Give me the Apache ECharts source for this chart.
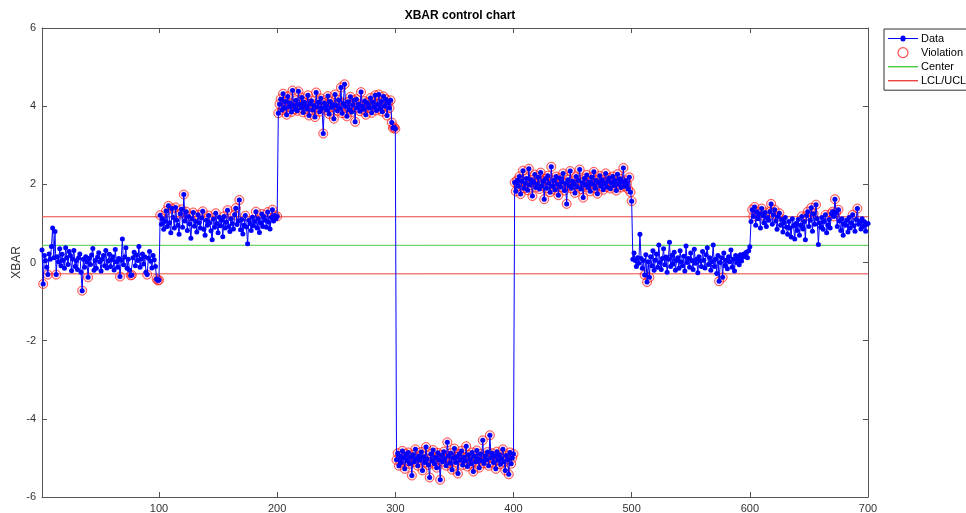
<!DOCTYPE html>
<html><head><meta charset="utf-8">
<script src="https://cdn.jsdelivr.net/npm/echarts@6/dist/echarts.min.js"></script>
<style>html,body{margin:0;padding:0;background:#fff}#c{width:966px;height:513px}</style>
</head><body><div id="c"></div>
<script>
var seg1=[0.32,-0.55,0.18,0.05,-0.12,-0.31,0.22,0.08,0.41,0.88,0.12,0.79,-0.31,0.15,0.02,0.35,-0.08,0.21,0.05,-0.15,
0.38,0.12,-0.05,0.28,0.18,-0.21,0.09,0.31,-0.1,0.05,-0.18,0.12,0.22,-0.25,-0.72,0.08,-0.12,0.15,0.02,-0.38,
0.11,-0.05,0.19,0.36,-0.2,0.05,-0.15,0.14,0.25,0.02,-0.22,0.09,0.18,-0.08,0.31,-0.14,0.04,0.21,-0.1,0.07,
0.15,-0.19,0.33,0.02,-0.12,0.1,-0.36,0.06,0.6,-0.06,0.14,0.38,-0.15,0.08,-0.2,-0.33,-0.32,0.12,0.26,-0.08,
0.19,0.05,0.41,-0.12,0.09,0.22,-0.04,0.15,-0.25,-0.31,0.11,0.28,0.03,-0.14,0.18,0.07,-0.1,-0.42,-0.46,-0.45];
var seg2=[1.21,0.98,1.12,0.85,1.05,1.32,0.92,1.45,1.02,0.76,1.38,1.15,0.88,1.41,1.08,0.95,0.72,1.25,1.36,0.9,
1.74,1.06,1.3,0.82,1.18,0.99,0.62,1.12,1.28,0.93,1.05,0.78,1.22,1.02,0.88,1.14,1.31,0.85,0.7,1.08,
0.95,1.2,1.02,0.81,0.58,1.11,0.9,1.26,1.0,0.76,1.16,0.94,1.08,0.66,1.18,0.88,1.03,1.34,0.92,0.79,
1.12,1.0,0.86,1.22,1.39,0.97,1.06,1.6,0.84,1.1,0.73,0.95,1.2,0.91,0.48,1.08,1.0,0.82,1.16,0.94,
1.05,1.3,0.88,1.12,0.77,1.02,1.24,0.92,1.17,1.08,0.9,1.29,1.03,0.86,1.15,1.35,1.06,1.2,1.12,1.18];
var seg3=[3.82,4.05,4.18,3.9,4.32,3.95,4.12,3.78,4.25,3.98,4.08,3.85,4.4,4.02,3.92,4.15,3.88,4.38,4.05,3.96,
4.22,3.84,4.1,4.01,3.93,4.28,3.76,4.06,4.14,3.9,4.02,3.72,4.35,3.98,4.1,3.86,4.2,3.95,3.3,4.08,
4.0,3.9,4.26,3.8,4.12,3.97,4.04,3.68,4.3,4.02,3.88,4.16,3.94,4.48,3.82,4.07,4.56,3.99,3.74,4.11,
3.91,4.24,3.85,4.03,4.15,3.6,4.18,3.96,4.05,3.87,4.36,4.0,3.92,4.13,3.78,4.09,4.02,3.95,4.21,3.83,
4.1,3.97,4.28,3.89,4.04,4.3,3.93,4.12,3.86,4.25,4.0,4.18,3.76,4.08,3.95,4.15,3.58,3.44,3.46,3.42];
var seg4=[-5.05,-4.88,-5.2,-4.95,-5.12,-4.82,-5.0,-5.28,-4.9,-5.08,-4.86,-5.15,-4.98,-5.45,-4.92,-5.1,-4.78,-5.02,-5.2,-4.95,
-5.06,-4.85,-5.32,-4.97,-5.12,-4.72,-5.03,-5.18,-5.5,-4.9,-5.08,-4.8,-5.15,-4.99,-5.25,-4.87,-5.05,-5.56,-4.93,-5.1,
-4.84,-5.02,-5.2,-4.6,-4.95,-5.13,-4.88,-5.3,-5.0,-4.76,-5.12,-4.97,-5.4,-4.9,-5.06,-4.82,-5.18,-4.98,-5.08,-4.7,
-5.22,-4.92,-5.04,-5.15,-4.86,-5.35,-4.96,-5.1,-4.81,-5.02,-5.25,-4.9,-5.07,-4.55,-5.14,-4.95,-5.05,-4.85,-5.2,-4.42,
-5.0,-4.88,-5.12,-4.96,-5.28,-4.84,-5.06,-4.92,-5.16,-5.02,-4.78,-5.1,-5.32,-4.94,-5.04,-5.42,-4.86,-5.15,-5.0,-4.9];
var seg5=[2.05,1.82,2.1,1.95,2.2,1.75,2.08,2.35,1.9,2.02,2.15,1.85,2.4,1.98,2.12,1.7,2.05,2.25,1.92,2.0,
2.18,1.88,2.3,1.96,2.08,1.62,2.14,1.9,2.22,2.03,1.8,2.45,1.95,2.1,1.86,2.2,2.0,1.72,2.16,1.93,
2.06,2.28,1.84,2.02,1.5,2.12,1.96,2.34,1.9,2.08,2.0,1.78,2.2,1.94,2.1,2.38,1.88,2.04,1.66,2.15,
1.98,2.24,1.92,2.06,1.82,2.18,2.0,2.32,1.9,2.1,1.76,2.05,2.22,1.95,2.12,1.86,2.02,2.28,1.93,2.08,
2.16,1.89,2.04,2.2,1.97,2.1,1.84,2.26,2.0,2.14,1.92,2.06,2.42,1.95,2.1,2.02,1.88,2.18,1.8,1.57];
var seg6=[0.08,0.24,0.05,-0.1,0.12,-0.02,0.72,0.1,-0.15,0.05,-0.32,0.2,-0.5,0.02,-0.38,0.15,-0.08,0.3,-0.2,0.06,
0.22,-0.12,0.45,0.0,-0.18,0.1,0.35,-0.06,0.14,-0.25,0.08,0.52,-0.1,0.18,-0.04,0.26,-0.2,0.05,0.12,-0.15,
0.3,0.02,-0.08,0.16,-0.22,0.42,0.0,0.1,-0.12,0.24,0.05,-0.18,0.34,-0.02,0.08,-0.26,0.15,0.04,-0.1,0.28,
0.06,-0.14,0.2,0.38,-0.05,0.12,-0.2,0.02,0.45,-0.1,0.08,-0.28,0.18,-0.48,0.0,0.12,-0.38,0.24,-0.08,0.06,
-0.16,0.15,0.02,0.32,-0.12,0.08,-0.22,0.18,0.0,0.1,-0.06,0.2,0.04,0.14,0.22,0.16,0.26,0.12,0.3,0.4];
var seg7=[1.05,1.35,1.18,1.42,0.95,1.3,1.12,1.25,0.88,1.38,1.2,1.02,1.28,0.92,1.15,1.08,1.3,1.5,0.98,1.22,
1.35,1.06,0.85,1.18,1.26,0.95,1.1,0.78,1.02,1.15,0.9,0.72,1.05,0.88,0.65,1.12,0.94,0.6,1.0,0.82,
1.1,0.7,0.95,1.18,0.86,1.05,0.58,1.2,1.3,0.92,1.08,1.4,0.8,1.25,0.98,1.48,1.12,0.46,1.02,0.9,
1.15,0.85,1.05,1.22,0.76,0.96,1.1,0.88,1.25,1.3,1.18,1.62,1.28,0.92,1.35,1.06,0.82,1.12,0.7,1.0,
0.95,1.08,0.78,1.15,0.88,1.02,1.22,0.94,0.8,1.1,1.38,0.98,1.05,0.86,1.12,0.92,1.04,0.8,0.98,1.0];
var centerValue=0.44, uclValue=1.17, lclValue=-0.29;
var xTicks=[100,200,300,400,500,600,700];
var yTicks=[-6,-4,-2,0,2,4,6];

var values=[].concat(seg1,seg2,seg3,seg4,seg5,seg6,seg7);
var dataPts=values.map(function(v,i){return [i+1,v];});
var viol=dataPts.filter(function(p){return p[1]>uclValue||p[1]<lclValue;});
var n=values.length;
var font='Liberation Sans';
var axisCol='#555';
var lineIcon='path://M0,0H30V1.4H0Z';
var dataIcon='path://M0,4.5H12.5A2.5,2.5 0 0,1 17.5,4.5H30V5.5H17.5A2.5,2.5 0 0,1 12.5,5.5H0Z';
var chart=echarts.init(document.getElementById('c'));
chart.setOption({
  animation:false,
  textStyle:{fontFamily:font},
  title:{text:'XBAR control chart',left:455,top:5,textAlign:'center',
    textStyle:{fontSize:12,fontWeight:'bold',color:'#000',fontFamily:font}},
  legend:{orient:'vertical',left:884,top:29,itemWidth:30,itemHeight:10,itemGap:3,
    padding:[4,40,4,4],borderColor:'#333',borderWidth:1,backgroundColor:'#fff',
    textStyle:{fontSize:11,color:'#000',fontFamily:font,padding:[0,0,0,-2]},
    data:[{name:'Data',icon:dataIcon},{name:'Violation',itemStyle:{color:'#fff',borderColor:'#ff2020',borderWidth:1.2}},
      {name:'Center',icon:lineIcon},{name:'LCL/UCL',icon:lineIcon}]},
  grid:{left:42,right:98,top:28,bottom:16,containLabel:false,outerBoundsMode:'none'},
  xAxis:[{type:'value',min:1,max:n,position:'bottom',
    axisLine:{onZero:false,lineStyle:{color:axisCol}},splitLine:{show:false},
    axisTick:{inside:true,length:5,customValues:xTicks,lineStyle:{color:axisCol}},
    axisLabel:{customValues:xTicks,color:'#333',fontSize:11,margin:6}},
   {type:'value',min:1,max:n,position:'top',
    axisLine:{onZero:false,lineStyle:{color:axisCol}},splitLine:{show:false},
    axisTick:{inside:true,length:5,customValues:xTicks,lineStyle:{color:axisCol}},
    axisLabel:{show:false}}],
  yAxis:[{type:'value',min:-6,max:6,interval:2,position:'left',
    name:'XBAR',nameLocation:'middle',nameGap:19,nameRotate:90,nameMoveOverlap:false,
    nameTextStyle:{fontSize:12,color:'#333'},
    axisLine:{show:true,onZero:false,lineStyle:{color:axisCol}},splitLine:{show:false},
    axisTick:{show:true,inside:true,length:5,lineStyle:{color:axisCol}},
    axisLabel:{color:'#333',fontSize:11,margin:6}},
   {type:'value',min:-6,max:6,interval:2,position:'right',
    axisLine:{show:true,onZero:false,lineStyle:{color:axisCol}},splitLine:{show:false},
    axisTick:{show:true,inside:true,length:5,lineStyle:{color:axisCol}},
    axisLabel:{show:false}}],
  series:[
    {name:'Center',type:'line',symbol:'none',data:[[1,centerValue],[n,centerValue]],
      lineStyle:{color:'#44cc44',width:1},itemStyle:{color:'#44cc44'},z:1},
    {name:'LCL/UCL',type:'line',symbol:'none',data:[[1,uclValue],[n,uclValue]],
      lineStyle:{color:'#e8433f',width:1},itemStyle:{color:'#e8433f'},z:1},
    {name:'LCL/UCL',type:'line',symbol:'none',data:[[1,lclValue],[n,lclValue]],
      lineStyle:{color:'#e8433f',width:1},itemStyle:{color:'#e8433f'},z:1},
    {name:'Data',type:'line',data:dataPts,symbol:'circle',symbolSize:5,showAllSymbol:true,
      lineStyle:{color:'#0000ff',width:1},itemStyle:{color:'#0000ff'},z:3},
    {name:'Violation',type:'scatter',data:viol,symbol:'circle',symbolSize:9,
      itemStyle:{color:'rgba(255,0,0,0.15)',borderColor:'#ff2020',borderWidth:1},z:2}
  ]
});
</script></body></html>
